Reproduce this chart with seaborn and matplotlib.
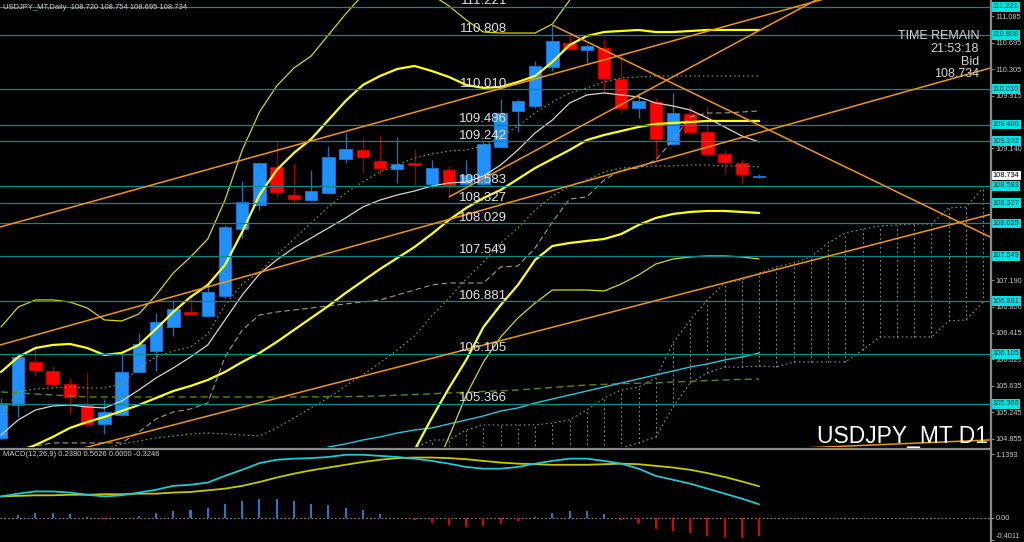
import numpy as np
import pandas as pd
import matplotlib
matplotlib.use("Agg")
import matplotlib.pyplot as plt
import matplotlib.transforms as mtrans
from matplotlib.lines import Line2D
import seaborn as sns

# ------------------------------------------------------------------ data
SYMBOL = "USDJPY_MT"
TIMEFRAME = "Daily"
TIME_REMAIN = "21:53:18"

OPEN = [104.864, 105.351, 105.985, 105.852, 105.661, 105.366, 105.071, 105.203, 105.838, 106.147,
        106.501, 106.722, 106.664, 106.959, 107.947, 108.301, 108.861, 108.448, 108.374, 108.478,
        108.979, 109.112, 108.950, 108.832, 108.913, 108.610, 108.817, 108.610, 108.610, 109.156,
        109.687, 109.761, 110.336, 110.690, 110.587, 110.616, 110.159, 109.731, 109.820, 109.200,
        109.643, 109.377, 109.053, 108.920, 108.720]
HIGH = [105.454, 106.118, 106.206, 105.926, 105.749, 105.838, 105.439, 106.118, 106.413, 106.708,
        106.900, 106.959, 107.150, 108.000, 108.655, 108.935, 109.230, 108.920, 108.817, 109.171,
        109.363, 109.289, 109.333, 109.304, 109.127, 108.964, 108.876, 108.964, 109.230, 109.864,
        109.864, 110.425, 110.955, 110.808, 110.670, 110.749, 110.543, 109.953, 109.879, 109.953,
        109.761, 109.761, 109.112, 108.979, 108.754]
LOW = [104.835, 105.174, 105.779, 105.602, 105.233, 105.026, 104.923, 105.190, 105.830, 105.852,
       106.369, 106.690, 106.650, 106.930, 107.814, 108.227, 108.419, 108.345, 108.360, 108.470,
       108.920, 108.773, 108.743, 108.625, 108.596, 108.551, 108.419, 108.580, 108.580, 109.140,
       109.377, 109.731, 110.277, 110.590, 110.395, 109.967, 109.658, 109.584, 108.964, 109.190,
       109.348, 109.009, 108.758, 108.625, 108.695]
CLOSE = [105.380, 106.059, 105.867, 105.661, 105.469, 105.071, 105.248, 105.838, 106.251, 106.575,
         106.767, 106.700, 107.018, 107.976, 108.345, 108.920, 108.492, 108.389, 108.507, 109.009,
         109.127, 109.009, 108.846, 108.905, 108.891, 108.846, 108.596, 108.743, 109.200, 109.658,
         109.835, 110.351, 110.719, 110.602, 110.646, 110.174, 109.731, 109.835, 109.274, 109.658,
         109.377, 109.053, 108.935, 108.758, 108.734]

# Bollinger-type bands
BAND_OUTER_UP = [106.501, 106.796, 106.900, 106.900, 106.870, 106.782, 106.605, 106.590, 106.693, 106.973,
                 107.298, 107.534, 107.799, 108.374, 109.112, 109.672, 110.056, 110.321, 110.498, 110.808,
                 111.118, 111.40, 111.62, 111.70, 111.55, 111.40, 111.236, 111.029, 110.852, 110.837,
                 110.837, 110.837, 110.970, 111.32, 111.62, 111.85, 112.0, 112.1, 112.15, 112.2,
                 112.2, 112.2, 112.2, 112.2, 112.2]
BAND_INNER_UP = [105.838, 106.059, 106.192, 106.236, 106.251, 106.192, 106.088, 106.118, 106.236, 106.472,
                 106.723, 106.944, 107.121, 107.416, 107.903, 108.448, 108.817, 109.068, 109.274, 109.554,
                 109.835, 110.071, 110.203, 110.307, 110.351, 110.277, 110.189, 110.071, 110.027, 110.041,
                 110.115, 110.203, 110.410, 110.661, 110.793, 110.852, 110.867, 110.882, 110.852, 110.852,
                 110.867, 110.882, 110.882, 110.882, 110.882]
BAND_MID = [104.613, 104.658, 104.761, 104.879, 105.012, 105.100, 105.174, 105.262, 105.351, 105.454,
            105.557, 105.631, 105.720, 105.838, 105.985, 106.118, 106.280, 106.457, 106.634, 106.811,
            107.003, 107.180, 107.357, 107.519, 107.681, 107.873, 108.079, 108.257, 108.404, 108.522,
            108.684, 108.846, 108.979, 109.112, 109.259, 109.333, 109.392, 109.451, 109.495, 109.510,
            109.525, 109.540, 109.540, 109.540, 109.540]
BAND_INNER_DN = [103.4, 103.3, 103.3, 103.5, 103.8, 104.0, 104.2, 104.4, 104.5, 104.4,
                 104.4, 104.3, 104.3, 104.3, 104.1, 103.8, 103.7, 103.8, 104.0, 104.1,
                 104.1, 104.1, 104.1, 104.24, 104.687, 105.159, 105.602, 106.015, 106.501, 106.826,
                 107.121, 107.490, 107.696, 107.740, 107.770, 107.799, 107.873, 108.006, 108.109, 108.168,
                 108.198, 108.212, 108.212, 108.198, 108.183]
BAND_OUTER_DN = [102.6, 102.4, 102.4, 102.6, 103.0, 103.3, 103.5, 103.7, 103.9, 103.9,
                 103.8, 103.6, 103.5, 103.3, 102.9, 102.6, 102.5, 102.6, 102.8, 102.9,
                 103.0, 103.2, 103.5, 103.8, 104.1, 104.32, 104.879, 105.498, 105.985, 106.354,
                 106.634, 106.855, 107.047, 107.047, 107.047, 107.032, 107.136, 107.268, 107.430, 107.504,
                 107.534, 107.549, 107.549, 107.534, 107.504]
# moving averages / ichimoku lines
MA_FAST = [104.908, 105.130, 105.277, 105.336, 105.351, 105.321, 105.307, 105.410, 105.572, 105.749,
           105.897, 106.059, 106.236, 106.605, 106.973, 107.283, 107.490, 107.667, 107.814, 107.961,
           108.109, 108.271, 108.374, 108.448, 108.507, 108.581, 108.625, 108.640, 108.728, 108.891,
           109.112, 109.363, 109.554, 109.805, 109.923, 109.953, 109.923, 109.894, 109.805, 109.761,
           109.702, 109.584, 109.451, 109.318, 109.230]
KIJUN = [104.69, 104.717, 104.747, 104.791, 104.791, 104.791, 104.791, 104.791, 104.953, 105.144,
         105.248, 105.292, 105.380, 106.059, 106.457, 106.678, 106.722, 106.752, 106.782, 106.811,
         106.841, 106.870, 106.900, 106.973, 107.047, 107.121, 107.150, 107.150, 107.150, 107.386,
         107.401, 107.667, 108.050, 108.389, 108.419, 108.669, 108.817, 108.846, 108.964, 109.259,
         109.599, 109.658, 109.658, 109.672, 109.687]
DOT_UPPER = [105.203, 105.543, 105.587, 105.602, 105.616, 105.602, 105.602, 105.661, 105.897, 106.059,
             106.147, 106.206, 106.398, 106.826, 107.136, 107.313, 107.563, 107.799, 108.035, 108.271,
             108.478, 108.640, 108.787, 108.891, 108.994, 109.053, 109.097, 109.112, 109.171, 109.304,
             109.466, 109.658, 109.820, 109.953, 110.027, 110.115, 110.174, 110.189, 110.203, 110.203,
             110.203, 110.203, 110.203, 110.203, 110.203]
DOT_LOWER = [104.55, 104.55, 104.58, 104.60, 104.62, 104.65, 104.70, 104.775, 104.820, 104.864,
             104.894, 104.923, 104.938, 104.923, 104.908, 104.894, 105.012, 105.159, 105.307, 105.454,
             105.631, 105.794, 105.971, 106.162, 106.369, 106.664, 106.929, 107.209, 107.460, 107.740,
             107.961, 108.227, 108.433, 108.581, 108.669, 108.787, 108.846, 108.861, 108.876, 108.876,
             108.891, 108.891, 108.876, 108.876, 108.861]
MA_LONG = [105.543, 105.528, 105.513, 105.499, 105.484, 105.469, 105.469, 105.469, 105.469, 105.469,
           105.469, 105.469, 105.469, 105.469, 105.469, 105.469, 105.469, 105.469, 105.470, 105.472,
           105.475, 105.478, 105.484, 105.495, 105.505, 105.515, 105.528, 105.540, 105.550, 105.560,
           105.572, 105.590, 105.610, 105.628, 105.646, 105.655, 105.665, 105.672, 105.676, 105.690,
           105.700, 105.710, 105.720, 105.728, 105.735]
MA_CYAN = [103.9, 103.92, 103.95, 103.98, 104.0, 104.03, 104.06, 104.09, 104.12, 104.16,
           104.2, 104.24, 104.28, 104.33, 104.39, 104.45, 104.52, 104.58, 104.65, 104.731,
           104.776, 104.835, 104.879, 104.938, 104.982, 105.012, 105.071, 105.130, 105.189, 105.262,
           105.307, 105.380, 105.439, 105.498, 105.557, 105.616, 105.676, 105.735, 105.794, 105.852,
           105.911, 105.956, 106.015, 106.059, 106.118]
# ichimoku cloud (first value belongs to bar CLOUD_START)
CLOUD_START = 22
SPAN_A = [104.54, 104.658, 104.717, 104.835, 104.835, 104.982, 105.056, 105.056, 105.056, 105.056,
          105.085, 105.130, 105.277, 105.454, 105.572, 105.616, 105.749, 106.265, 106.605, 106.900,
          107.150, 107.195, 107.298, 107.386, 107.445, 107.534, 107.740, 107.888, 107.947, 107.991,
          108.006, 108.020, 108.020, 108.256, 108.271, 108.551]
SPAN_B = [104.245, 104.245, 104.245, 104.245, 104.274, 104.304, 104.333, 104.363, 104.392, 104.422,
          104.451, 104.510, 104.569, 104.628, 104.717, 104.790, 104.879, 105.321, 105.675, 105.823,
          105.911, 105.911, 105.926, 105.911, 105.985, 105.985, 105.985, 105.985, 106.162, 106.354,
          106.354, 106.354, 106.354, 106.590, 106.605, 106.870]

# horizontal levels and right-axis ticks (ticks hidden behind level boxes are left out)
LEVELS = [111.221, 110.808, 110.010, 109.486, 109.242, 108.583, 108.327, 108.029,
          107.549, 106.881, 106.105, 105.366]
PRICE_TICKS = [111.085, 110.695, 110.305, 109.915, 109.140, 107.190, 106.800, 106.415,
               106.025, 105.635, 105.245, 104.855]

# trend lines: anchor 1 (bar, price), anchor 2 (bar, price), ray starting at anchor 1?
TREND_X1 = [0.0, 0.0, 4.4, 26.0, 32.0, 46.55]
TREND_P1 = [107.98, 106.24, 104.69, 108.419, 110.955, 104.717]
TREND_X2 = [47.5, 57.4, 57.4, 38.65, 57.4, 57.4]
TREND_P2 = [111.32, 110.32, 108.16, 110.144, 107.829, 104.835]
TREND_FROM_ANCHOR = [False, False, False, True, True, False]

# MACD(12,26,9)
MACD = [0.38, 0.43, 0.47, 0.47, 0.45, 0.41, 0.38, 0.40, 0.45, 0.50,
        0.57, 0.59, 0.63, 0.75, 0.86, 0.98, 1.04, 1.06, 1.07, 1.09,
        1.13, 1.13, 1.11, 1.09, 1.06, 1.02, 0.97, 0.91, 0.88, 0.88,
        0.91, 0.97, 1.02, 1.06, 1.06, 1.02, 0.97, 0.88, 0.75, 0.68,
        0.61, 0.52, 0.43, 0.34, 0.2380]
SIGNAL = [0.38, 0.39, 0.40, 0.40, 0.41, 0.41, 0.42, 0.42, 0.43, 0.43,
          0.45, 0.46, 0.49, 0.52, 0.57, 0.64, 0.72, 0.79, 0.85, 0.90,
          0.95, 1.00, 1.04, 1.07, 1.08, 1.08, 1.07, 1.05, 1.02, 0.99,
          0.97, 0.96, 0.95, 0.95, 0.95, 0.96, 0.97, 0.96, 0.93, 0.90,
          0.86, 0.80, 0.73, 0.65, 0.5626]
HIST = [-0.01, 0.04, 0.08, 0.08, 0.06, 0.01, -0.03, -0.01, 0.02, 0.08,
        0.11, 0.13, 0.17, 0.24, 0.29, 0.34, 0.33, 0.29, 0.24, 0.22,
        0.18, 0.13, 0.06, -0.01, -0.05, -0.10, -0.14, -0.17, -0.16, -0.12,
        -0.07, 0.01, 0.08, 0.11, 0.11, 0.06, -0.04, -0.10, -0.21, -0.24,
        -0.28, -0.33, -0.35, -0.37, -0.3246]
MACD_TICKS = [1.1393, 0.0, -0.4011]
MACD_TICK_LABELS = ["1.1393", "0.00", "-0.4011"]

# ------------------------------------------------------------------ style
sns.set_style("dark")
plt.rcParams['font.family'] = ['Liberation Sans', 'DejaVu Sans']
plt.rcParams['patch.force_edgecolor'] = False

W, H = 1024, 542
PLOT_RIGHT = 990
MAIN_BOTTOM = 447
MACD_TOP = 450
BAR_PX = 17.23
X_LEFT = -1.0 / BAR_PX
X_RIGHT = (PLOT_RIGHT - 1.0) / BAR_PX

def fx(px):
    return px / W

def fy(py):
    return 1 - py / H

fig = plt.figure(figsize=(W / 100, H / 100), dpi=100, facecolor='black')
ax = fig.add_axes([0, fy(MAIN_BOTTOM), fx(PLOT_RIGHT), MAIN_BOTTOM / H])
axm = fig.add_axes([0, 0, fx(PLOT_RIGHT), (H - MACD_TOP) / H])

for a in (ax, axm):
    a.set_facecolor('black')
    a.grid(False)
    for s in ('left', 'top', 'bottom'):
        a.spines[s].set_visible(False)
    a.spines['right'].set_color('#8a8a8a')
    a.spines['right'].set_linewidth(0.9)

idx = np.arange(len(OPEN))
df = pd.DataFrame({
    'bar': idx, 'up2': BAND_OUTER_UP, 'up1': BAND_INNER_UP, 'mid': BAND_MID,
    'dn1': BAND_INNER_DN, 'dn2': BAND_OUTER_DN, 'fast': MA_FAST, 'kijun': KIJUN,
    'dotu': DOT_UPPER, 'dotl': DOT_LOWER, 'long': MA_LONG, 'cyan': MA_CYAN,
    'macd': MACD, 'signal': SIGNAL, 'hist': HIST,
})
cloud_idx = np.arange(CLOUD_START, CLOUD_START + len(SPAN_A))
cdf = pd.DataFrame({'bar': cloud_idx, 'a': SPAN_A, 'b': SPAN_B})


def sline(axis, data, col, color, lw, ls='-', z=5):
    sns.lineplot(data=data, x='bar', y=col, ax=axis, color=color, linewidth=lw,
                 linestyle=ls, errorbar=None, zorder=z)

# ------------------------------------------------------------------ cloud
ax.vlines(cloud_idx, SPAN_B, SPAN_A, colors='#8c8c8c', linestyles=(0, (1.5, 2.5)),
          linewidth=0.8, zorder=1)
sline(ax, cdf, 'a', '#8c8c8c', 0.8, (0, (1.5, 2.5)), 1)
sline(ax, cdf, 'b', '#8c8c8c', 0.8, (0, (1.5, 2.5)), 1)

# ------------------------------------------------------------------ candles
o, h, l, c = map(np.array, (OPEN, HIGH, LOW, CLOSE))
up = c >= o
body_lo = np.minimum(o, c)
body_h = np.abs(c - o)
min_h = 0.016
body_lo = np.where(body_h < min_h, (o + c) / 2 - min_h / 2, body_lo)
body_h = np.maximum(body_h, min_h)
ax.vlines(idx[up], l[up], h[up], colors='#2868aa', linewidth=1.0, zorder=3)
ax.vlines(idx[~up], l[~up], h[~up], colors='#a00000', linewidth=1.0, zorder=3)
ax.bar(idx[up], body_h[up], bottom=body_lo[up], width=0.72, color='#1e90ff',
       edgecolor='#1a78d8', linewidth=0.6, zorder=4)
ax.bar(idx[~up], body_h[~up], bottom=body_lo[~up], width=0.72, color='#ff0000',
       edgecolor='#d80000', linewidth=0.6, zorder=4)

# ------------------------------------------------------------------ indicators
sline(ax, df, 'long', '#5a8a00', 1.0, (0, (5, 3)), 5)
sline(ax, df, 'cyan', '#20c8e0', 1.0, '-', 5)
sline(ax, df, 'dotl', '#9a9a18', 0.8, (0, (1.5, 2.5)), 5)
sline(ax, df, 'dotu', '#9a9a18', 0.8, (0, (1.5, 2.5)), 5)
sline(ax, df, 'kijun', '#a09a92', 0.8, (0, (5, 3)), 5)
sline(ax, df, 'fast', '#dcd4cc', 0.9, '-', 5)
sline(ax, df, 'up2', '#d8d800', 0.9, '-', 5)
sline(ax, df, 'dn2', '#d8d800', 0.9, '-', 5)
sline(ax, df, 'up1', '#ffff10', 1.6, '-', 5)
sline(ax, df, 'mid', '#ffff10', 1.6, '-', 5)
sline(ax, df, 'dn1', '#ffff10', 1.6, '-', 5)

# ------------------------------------------------------------------ horizontal levels
lab_tr = mtrans.offset_copy(ax.transData, fig=fig, y=2.5, units='dots')
LABEL_X = (507 - 1) / BAR_PX
for lv in LEVELS:
    ax.axhline(lv, color='#0b8a8a', linewidth=0.9, zorder=6)
    ax.text(LABEL_X, lv, f"{lv:.3f}", transform=lab_tr, ha='right', va='baseline',
            fontsize=9.5, color='#e2e2e2', zorder=9, clip_on=True)

# ------------------------------------------------------------------ trend lines
for x1, p1, x2, p2, ray in zip(TREND_X1, TREND_P1, TREND_X2, TREND_P2, TREND_FROM_ANCHOR):
    slope = (p2 - p1) / (x2 - x1)
    xs = np.array([x1 if ray else X_LEFT - 2, X_RIGHT + 2])
    ax.plot(xs, p1 + slope * (xs - x1), color='#f0960a', linewidth=1.1, zorder=7,
            solid_capstyle='butt')

# ------------------------------------------------------------------ axes limits/ticks
ax.set_xlim(X_LEFT, X_RIGHT)
ax.set_ylim(104.731, 111.324)
ax.set_xticks([])
ax.set_xlabel('')
ax.set_ylabel('')
ax.yaxis.tick_right()
ax.set_yticks(PRICE_TICKS)
ax.set_yticklabels([f"{t:.3f}" for t in PRICE_TICKS])
ax.tick_params(axis='y', colors='#8a8a8a', labelcolor='#c8c8c8', labelsize=5.3,
               length=3, width=0.8, pad=0.8, direction='out')

bl = mtrans.blended_transform_factory(ax.transAxes, ax.transData)
for lv in LEVELS:
    ax.text(1.0 + 2.5 / PLOT_RIGHT, lv, f"{lv:.3f}", transform=bl, ha='left', va='center',
            fontsize=5.3, color='#003838', zorder=20, clip_on=False,
            bbox=dict(boxstyle='square,pad=0.18', fc='#00e4e4', ec='none'))
ax.text(1.0 + 2.5 / PLOT_RIGHT, CLOSE[-1], f"{CLOSE[-1]:.3f}", transform=bl, ha='left',
        va='center', fontsize=5.3, color='black', zorder=20, clip_on=False,
        bbox=dict(boxstyle='square,pad=0.18', fc='white', ec='none'))

# ------------------------------------------------------------------ MACD panel
axm.axhline(0, color='#8a8a8a', linewidth=0.8, linestyle=(0, (1.5, 2)), zorder=1)
hist = np.array(HIST)
axm.bar(idx[hist >= 0], hist[hist >= 0], width=0.12, color='#1e78d2',
        edgecolor='none', linewidth=0, zorder=2)
axm.bar(idx[hist < 0], hist[hist < 0], width=0.12, color='#e00000',
        edgecolor='none', linewidth=0, zorder=2)
sline(axm, df, 'signal', '#c8c800', 1.3, '-', 3)
sline(axm, df, 'macd', '#20c8d8', 1.3, '-', 3)
axm.set_xlim(X_LEFT, X_RIGHT)
axm.set_ylim(-0.441, 1.216)
axm.set_xticks([])
axm.set_xlabel('')
axm.set_ylabel('')
axm.yaxis.tick_right()
axm.set_yticks(MACD_TICKS)
axm.set_yticklabels(MACD_TICK_LABELS)
axm.tick_params(axis='y', colors='#8a8a8a', labelcolor='#c8c8c8', labelsize=5.3,
                length=3, width=0.8, pad=0.8, direction='out')
axm.get_yticklabels()[-1].set_verticalalignment('bottom')

# ------------------------------------------------------------------ frame & texts
fig.add_artist(Line2D([0, fx(PLOT_RIGHT + 1)], [fy(448.5), fy(448.5)], color='#8a8a8a', lw=1.6))
fig.add_artist(Line2D([fx(PLOT_RIGHT + 0.5)] * 2, [0, 1], color='#8a8a8a', lw=0.9))

fig.text(fx(3), fy(7.5), f"{SYMBOL},{TIMEFRAME}  {OPEN[-1]:.3f} {HIGH[-1]:.3f} {LOW[-1]:.3f} {CLOSE[-1]:.3f}",
         fontsize=5.5, color='#cfcfcf', ha='left', va='center')
fig.text(fx(3), fy(455), f"MACD(12,26,9) {MACD[-1]:.4f} {SIGNAL[-1]:.4f} {max(HIST[-1], 0):.4f} {min(HIST[-1], 0):.4f}",
         fontsize=5.5, color='#cfcfcf', ha='left', va='center')

info_color = '#d4d4d4'
fig.text(fx(979), fy(36), "TIME REMAIN", fontsize=9, color=info_color, ha='right', va='center')
fig.text(fx(979), fy(48.5), TIME_REMAIN, fontsize=9, color=info_color, ha='right', va='center')
fig.text(fx(979), fy(62), "Bid", fontsize=9, color=info_color, ha='right', va='center')
fig.text(fx(979), fy(74), f"{CLOSE[-1]:.3f}", fontsize=9, color=info_color, ha='right', va='center')
fig.text(fx(988), fy(443), f"{SYMBOL} D1", fontsize=16.5, color='white', ha='right', va='baseline')

fig.savefig("out.png", dpi=100, facecolor='black')
